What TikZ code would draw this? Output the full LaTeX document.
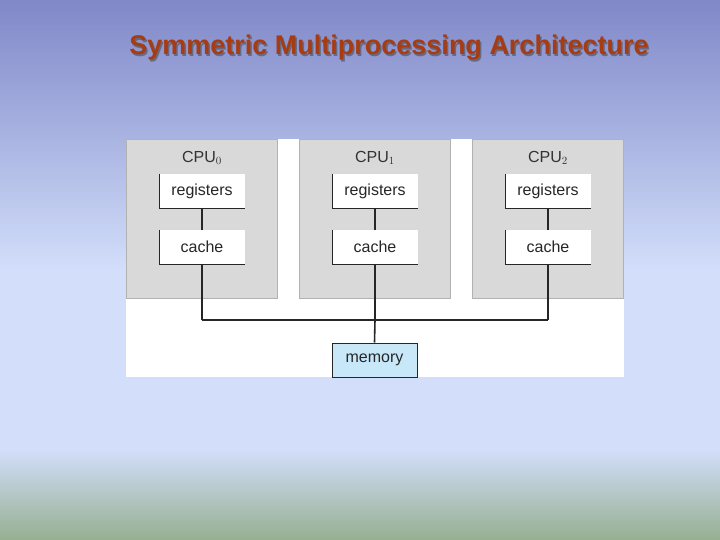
\documentclass[tikz,border=0pt]{standalone}
\usepackage{fontspec}
\setmainfont{Liberation Sans}
\definecolor{bgtop}{RGB}{128,136,200}
\definecolor{bgmid}{RGB}{210,222,250}
\definecolor{bgbot}{RGB}{150,175,145}
\definecolor{memc}{RGB}{200,232,250}
\definecolor{titlec}{RGB}{165,60,20}
\begin{document}
\begin{tikzpicture}[x=1pt,y=-1pt,
  panel/.style={fill=gray!30,draw=gray!60,line width=0.6pt},
  box/.style={fill=white,minimum width=85pt,minimum height=34pt,inner sep=0pt,font=\fontsize{16}{18}\selectfont,text=black!85},
  lbl/.style={font=\fontsize{16}{18}\selectfont,text=black!80},
  wire/.style={line width=1.6pt,black!85}]
\useasboundingbox (0,0) rectangle (720,540);
\shade[top color=bgtop,bottom color=bgmid] (0,0) rectangle (720,270);
\fill[bgmid] (0,270) rectangle (720,450);
\shade[top color=bgmid,bottom color=bgbot] (0,450) rectangle (720,540);
\node[text=gray!60!black,opacity=0.6] at (390.5,49.5) {\fontsize{27}{30}\selectfont\bfseries Symmetric Multiprocessing Architecture};
\node (title) at (389,48) {\fontsize{27}{30}\selectfont\bfseries\color{titlec}Symmetric Multiprocessing Architecture};
\fill[white] (126,139) rectangle (624,377);
\foreach \i/\x in {0/126,1/299,2/472}{
  \draw[panel] (\x,139) rectangle (\x+151,298);
  \node[lbl] (cpu\i) at (\x+76,158) {CPU$_{\i}$};
  \node[box] (reg\i) at (\x+76,191) {registers};
  \node[box] (cache\i) at (\x+76,247) {cache};
  \draw[line width=1.2pt,black!85] (reg\i.north west) -- (reg\i.south west) -- (reg\i.south east);
  \draw[line width=1.2pt,black!85] (cache\i.north west) -- (cache\i.south west) -- (cache\i.south east);
  \draw[wire] (reg\i) -- (cache\i);
  \coordinate (bus\i) at (\x+76,320);
  \draw[wire] (cache\i) -- (bus\i);
}
\draw[wire] (bus0) -- (bus2);
\node[box,fill=memc,draw=black!85,line width=1pt] (mem) at (374.5,360) {memory};
\draw[wire] (bus1) -- (mem.north);
\end{tikzpicture}
\end{document}
